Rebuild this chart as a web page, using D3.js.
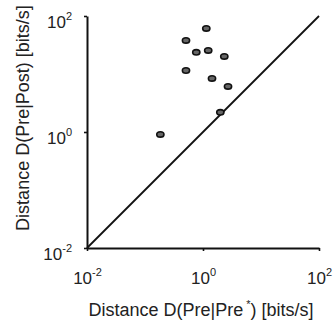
<!DOCTYPE html>
<html>
<head>
<meta charset="utf-8">
<script src="https://cdn.jsdelivr.net/npm/d3@7"></script>
<style>
  body { margin: 0; background: #fff; }
  svg { display: block; font-family: "Liberation Sans", Arial, sans-serif; }
</style>
</head>
<body>
<svg id="chart" width="333" height="321"></svg>
<script>
// values (bits/s)
const prePre = [0.184, 0.509, 0.509, 0.766, 1.14, 1.23, 1.43, 2.33, 2.70, 1.99];
const prePost = [0.91, 37.9, 11.5, 23.6, 61.1, 25.5, 8.4, 20.1, 6.11, 2.18];
const tickExps = [-2, 0, 2];
const domain = [1e-2, 1e2];

const svg = d3.select("#chart");
const margin = { top: 16, right: 14, bottom: 73, left: 87 };
const innerWidth = 333 - margin.left - margin.right;
const innerHeight = 321 - margin.top - margin.bottom;

const x = d3.scaleLog().domain(domain).range([0, innerWidth]);
const y = d3.scaleLog().domain(domain).range([innerHeight, 0]);

const root = svg.append("g").attr("transform", `translate(${margin.left},${margin.top})`);

const powLabel = (sel) => {
  sel.each(function (d) {
    const t = d3.select(this);
    t.text(null);
    t.append("tspan").text("10");
    t.append("tspan").attr("dy", -8).attr("font-size", "11px").text(Math.round(Math.log10(d)));
  });
};

const tickValues = tickExps.map((e) => Math.pow(10, e));

const xAxis = root
  .append("g")
  .attr("transform", `translate(0,${innerHeight})`)
  .call(d3.axisBottom(x).tickValues(tickValues).tickSize(3).tickSizeOuter(0));

xAxis.selectAll("text")
  .attr("font-size", "17px")
  .attr("fill", "#222")
  .attr("y", 36)
  .attr("dy", null)
  .call(powLabel);

const yAxis = root
  .append("g")
  .call(d3.axisLeft(y).tickValues(tickValues).tickSize(3).tickSizeOuter(0));

yAxis.selectAll("text")
  .attr("font-size", "17px")
  .attr("fill", "#222")
  .attr("x", -15)
  .attr("y", 11)
  .attr("dy", null)
  .call(powLabel);

[xAxis, yAxis].forEach((g) => {
  g.select(".domain").attr("stroke", "#111").attr("stroke-width", 2);
  g.selectAll(".tick line").attr("stroke", "#111").attr("stroke-width", 1.6);
});

// unity line
root
  .append("line")
  .attr("x1", x(domain[0]))
  .attr("y1", y(domain[0]))
  .attr("x2", x(domain[1]))
  .attr("y2", y(domain[1]))
  .attr("stroke", "#111")
  .attr("stroke-width", 1.8);

root
  .append("g")
  .selectAll("ellipse")
  .data(prePre.map((v, i) => [v, prePost[i]]))
  .join("ellipse")
  .attr("cx", (d) => x(d[0]))
  .attr("cy", (d) => y(d[1]))
  .attr("rx", 3.6)
  .attr("ry", 2.7)
  .attr("fill", "#666")
  .attr("stroke", "#111")
  .attr("stroke-width", 1.6);

// axis titles
const xt = root
  .append("text")
  .attr("x", innerWidth / 2 - 2)
  .attr("y", innerHeight + 68)
  .attr("text-anchor", "middle")
  .attr("font-size", "18px")
  .attr("fill", "#222");
xt.append("tspan").text("Distance D(Pre|Pre");
xt.append("tspan").attr("dy", -8).attr("font-size", "11px").text(" *");
xt.append("tspan").attr("dy", 8).text(") [bits/s]");

root
  .append("text")
  .attr("transform", "rotate(-90)")
  .attr("x", -102)
  .attr("y", -58)
  .attr("text-anchor", "middle")
  .attr("font-size", "18px")
  .attr("fill", "#222")
  .text("Distance D(Pre|Post) [bits/s]");
</script>
</body>
</html>
